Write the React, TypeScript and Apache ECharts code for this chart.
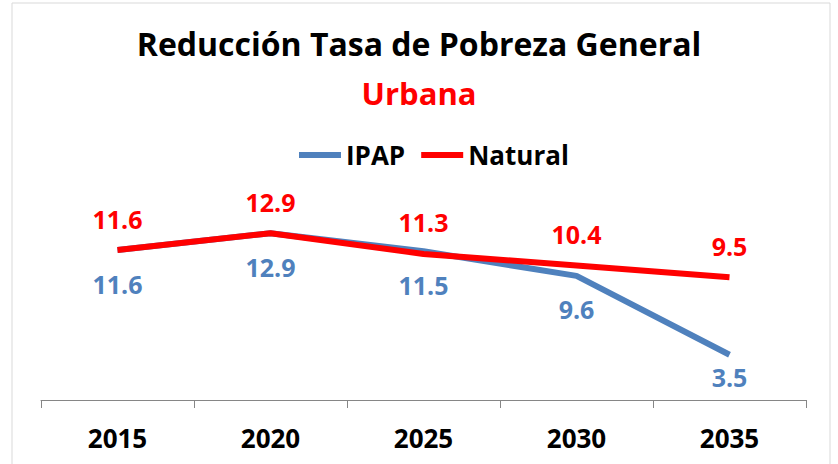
import React, { useEffect, useRef } from "react";
import * as echarts from "echarts";

const categories = ["2015", "2020", "2025", "2030", "2035"];
const ipapValues = [11.6, 12.9, 11.5, 9.6, 3.5];
const naturalValues = [11.6, 12.9, 11.3, 10.4, 9.5];
const seriesNames = ["IPAP", "Natural"];
const seriesColors = ["#4F81BD", "#FF0000"];
const titleText = "Reducción Tasa de Pobreza General";
const subtitleText = "Urbana";

const FONT = "'Open Sans', 'Liberation Sans', sans-serif";

export default function App() {
  const ref = useRef<HTMLDivElement>(null);
  useEffect(() => {
    if (!ref.current) return;
    const chart = echarts.init(ref.current, undefined, { renderer: "svg" });
    const ipapData = ipapValues.map((v, i) =>
      i === ipapValues.length - 1 ? { value: v, label: { distance: 9 } } : v
    );
    chart.setOption({
      animation: false,
      backgroundColor: "#ffffff",
      title: [
        {
          text: titleText,
          left: "center",
          top: 22,
          textStyle: { fontFamily: FONT, fontSize: 32, fontWeight: "bold", color: "#000000" },
        },
        {
          text: subtitleText,
          left: "center",
          top: 72,
          textStyle: { fontFamily: FONT, fontSize: 31, fontWeight: "bold", color: "#FF0000" },
        },
      ],
      legend: {
        top: 137,
        left: 294,
        itemWidth: 42,
        itemHeight: 6,
        itemGap: 16,
        icon: "rect",
        textStyle: { fontFamily: FONT, fontSize: 26, fontWeight: "bold", color: "#000000" },
        data: seriesNames.map((n, i) => ({
          name: n,
          icon: "rect",
          itemStyle: { color: seriesColors[i], opacity: 1 },
        })),
      },
      graphic: [
        {
          type: "rect",
          shape: { x: 12, y: 3, width: 818, height: 480 },
          style: { fill: "none", stroke: "#D9D9D9", lineWidth: 1 },
          silent: true,
          z: -1,
        },
      ],
      grid: { left: 41, right: 32, top: 219, bottom: 64, containLabel: false },
      xAxis: {
        type: "category",
        data: categories,
        boundaryGap: true,
        axisLine: { show: true, lineStyle: { color: "#868686", width: 1 } },
        axisTick: { show: true, length: 8, lineStyle: { color: "#868686" }, inside: false },
        axisLabel: {
          margin: 25,
          fontFamily: FONT,
          fontSize: 26,
          fontWeight: "bold",
          color: "#000000",
        },
      },
      yAxis: {
        type: "value",
        min: 0,
        max: 14,
        show: false,
        splitLine: { show: false },
      },
      series: [
        {
          name: "IPAP",
          type: "line",
          data: ipapData,
          symbol: "circle",
          symbolSize: 2,
          showAllSymbol: true,
          itemStyle: { color: "rgba(0,0,0,0)", borderWidth: 0 },
          lineStyle: { width: 6, color: seriesColors[0] },
          label: {
            show: true,
            position: "bottom",
            distance: 20,
            fontFamily: FONT,
            fontSize: 25,
            fontWeight: "bold",
            color: seriesColors[0],
            formatter: (p: any) => Number(p.value).toFixed(1),
          },
        },
        {
          name: "Natural",
          type: "line",
          data: naturalValues,
          symbol: "circle",
          symbolSize: 2,
          showAllSymbol: true,
          itemStyle: { color: "rgba(0,0,0,0)", borderWidth: 0 },
          lineStyle: { width: 6, color: seriesColors[1] },
          label: {
            show: true,
            position: "top",
            distance: 18,
            fontFamily: FONT,
            fontSize: 25,
            fontWeight: "bold",
            color: seriesColors[1],
            formatter: (p: any) => Number(p.value).toFixed(1),
          },
        },
      ],
    });
    return () => chart.dispose();
  }, []);
  return (
    <div
      ref={ref}
      style={{ position: "fixed", left: 0, top: 0, width: 838, height: 464 }}
    />
  );
}
